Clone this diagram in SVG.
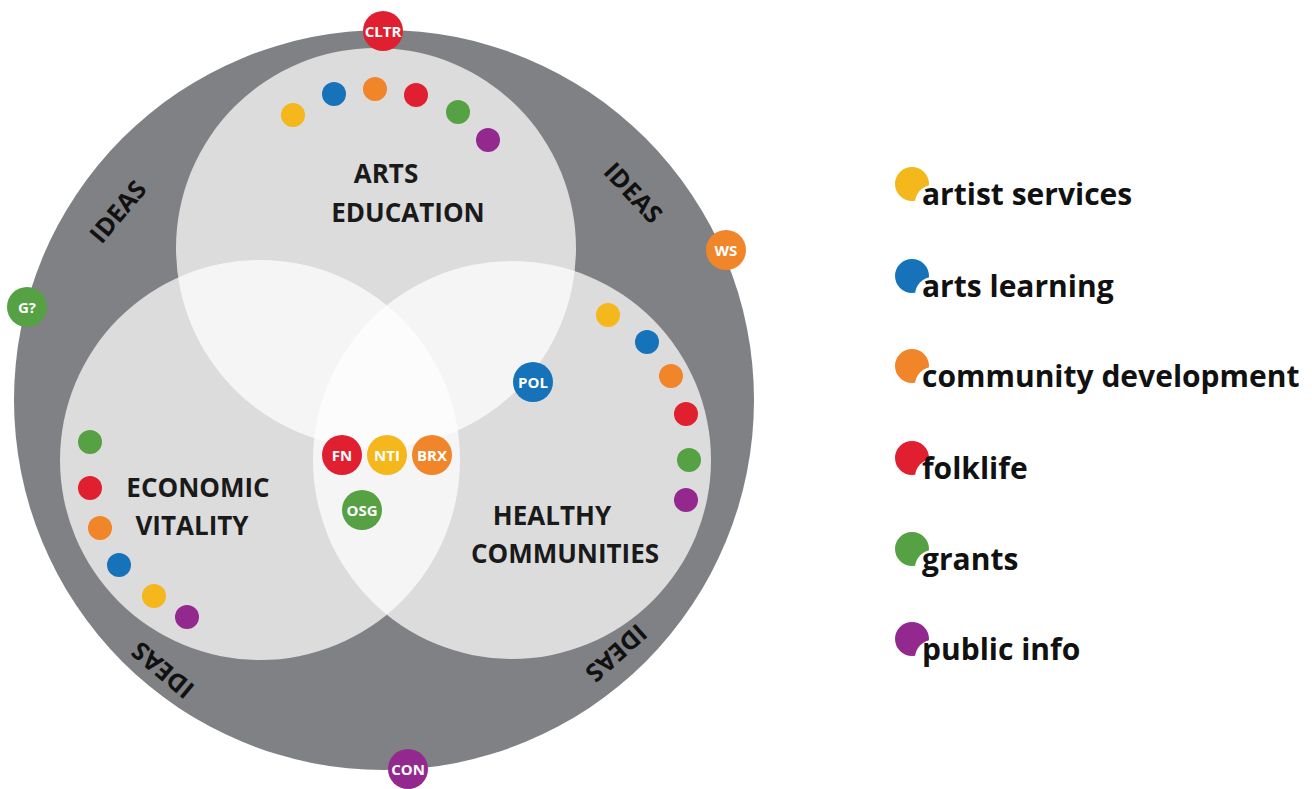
<svg xmlns="http://www.w3.org/2000/svg" width="1312" height="789" viewBox="0 0 1312 789">
<style>
.ring{fill:#808184}
.set{fill:#ffffff;fill-opacity:0.72}
.lbl{font-family:"Open Sans","DejaVu Sans",sans-serif;font-weight:700;font-size:26px;fill:#1a1a1a;text-anchor:middle}
.ideas{font-family:"Open Sans","DejaVu Sans",sans-serif;font-weight:700;font-size:25px;fill:#111;text-anchor:middle;dominant-baseline:central}
.bt{font-family:"Open Sans","DejaVu Sans",sans-serif;font-weight:700;font-size:15px;fill:#fff;text-anchor:middle;dominant-baseline:central}
.lg{font-family:"Open Sans","DejaVu Sans",sans-serif;font-weight:700;font-size:30px;fill:#111}
.bite{fill:#fff}
.y{fill:#f4b71c}.b{fill:#1673ba}.o{fill:#f0852a}.r{fill:#e01f30}.g{fill:#56a143}.p{fill:#93288e}
</style>
<rect width="1312" height="789" fill="#fff"/>
<g id="ring"><circle class="ring" cx="384" cy="400" r="370"/></g>
<g id="arts-education">
<circle class="set" cx="376" cy="248" r="200"/>
<text class="lbl" x="386" y="183">ARTS</text>
<text class="lbl" x="408" y="222">EDUCATION</text>
</g>
<g id="economic-vitality">
<circle class="set" cx="260" cy="460" r="200"/>
<text class="lbl" x="198" y="497">ECONOMIC</text>
<text class="lbl" x="192" y="535">VITALITY</text>
</g>
<g id="healthy-communities">
<circle class="set" cx="512" cy="460" r="199"/>
<text class="lbl" x="552" y="525">HEALTHY</text>
<text class="lbl" x="565" y="563">COMMUNITIES</text>
</g>
<g id="ideas-labels">
<text class="ideas" transform="translate(117,211) rotate(-50)">IDEAS</text>
<text class="ideas" transform="translate(634,192) rotate(47)">IDEAS</text>
<text class="ideas" transform="translate(162,671) rotate(-140)">IDEAS</text>
<text class="ideas" transform="translate(617,654) rotate(138)">IDEAS</text>
</g>
<g id="dots-top">
<circle class="y" cx="293" cy="115" r="12"/>
<circle class="b" cx="334" cy="94" r="12"/>
<circle class="o" cx="375" cy="89" r="12"/>
<circle class="r" cx="416" cy="95" r="12"/>
<circle class="g" cx="458" cy="112" r="12"/>
<circle class="p" cx="488" cy="140" r="12"/>
</g>
<g id="dots-right">
<circle class="y" cx="608" cy="315" r="12"/>
<circle class="b" cx="647" cy="342" r="12"/>
<circle class="o" cx="671" cy="376" r="12"/>
<circle class="r" cx="686" cy="414" r="12"/>
<circle class="g" cx="689" cy="460" r="12"/>
<circle class="p" cx="686" cy="500" r="12"/>
</g>
<g id="dots-left">
<circle class="g" cx="90" cy="442" r="12"/>
<circle class="r" cx="90" cy="488" r="12"/>
<circle class="o" cx="100" cy="528" r="12"/>
<circle class="b" cx="119" cy="565" r="12"/>
<circle class="y" cx="154" cy="596" r="12"/>
<circle class="p" cx="187" cy="617" r="12"/>
</g>
<g id="badge-cltr"><circle class="r" cx="383" cy="31" r="20"/><text class="bt" x="383" y="31">CLTR</text></g>
<g id="badge-ws"><circle class="o" cx="726" cy="250" r="20"/><text class="bt" x="726" y="250">WS</text></g>
<g id="badge-g"><circle class="g" cx="27" cy="307" r="20"/><text class="bt" x="27" y="307">G?</text></g>
<g id="badge-con"><circle class="p" cx="408" cy="769" r="20"/><text class="bt" x="408" y="769">CON</text></g>
<g id="badge-pol"><circle class="b" cx="533" cy="382" r="20"/><text class="bt" x="533" y="382">POL</text></g>
<g id="badge-fn"><circle class="r" cx="342" cy="455" r="20"/><text class="bt" x="342" y="455">FN</text></g>
<g id="badge-nti"><circle class="y" cx="387" cy="455" r="20"/><text class="bt" x="387" y="455">NTI</text></g>
<g id="badge-brx"><circle class="o" cx="432" cy="455" r="20"/><text class="bt" x="432" y="455">BRX</text></g>
<g id="badge-osg"><circle class="g" cx="362" cy="510" r="20"/><text class="bt" x="362" y="510">OSG</text></g>
<g id="legend">
<g id="lg-artist"><circle class="y" cx="912" cy="184" r="17"/><circle class="bite" cx="933" cy="203" r="18"/><text class="lg" x="922" y="205">artist services</text></g>
<g id="lg-arts"><circle class="b" cx="912" cy="276" r="17"/><circle class="bite" cx="933" cy="295" r="18"/><text class="lg" x="922" y="297">arts learning</text></g>
<g id="lg-comm"><circle class="o" cx="912" cy="366" r="17"/><circle class="bite" cx="933" cy="385" r="18"/><text class="lg" x="922" y="387">community development</text></g>
<g id="lg-folk"><circle class="r" cx="912" cy="458" r="17"/><circle class="bite" cx="933" cy="477" r="18"/><text class="lg" x="922" y="479">folklife</text></g>
<g id="lg-grants"><circle class="g" cx="912" cy="549" r="17"/><circle class="bite" cx="933" cy="568" r="18"/><text class="lg" x="922" y="570">grants</text></g>
<g id="lg-public"><circle class="p" cx="912" cy="639" r="17"/><circle class="bite" cx="933" cy="658" r="18"/><text class="lg" x="922" y="660">public info</text></g>
</g>
</svg>
